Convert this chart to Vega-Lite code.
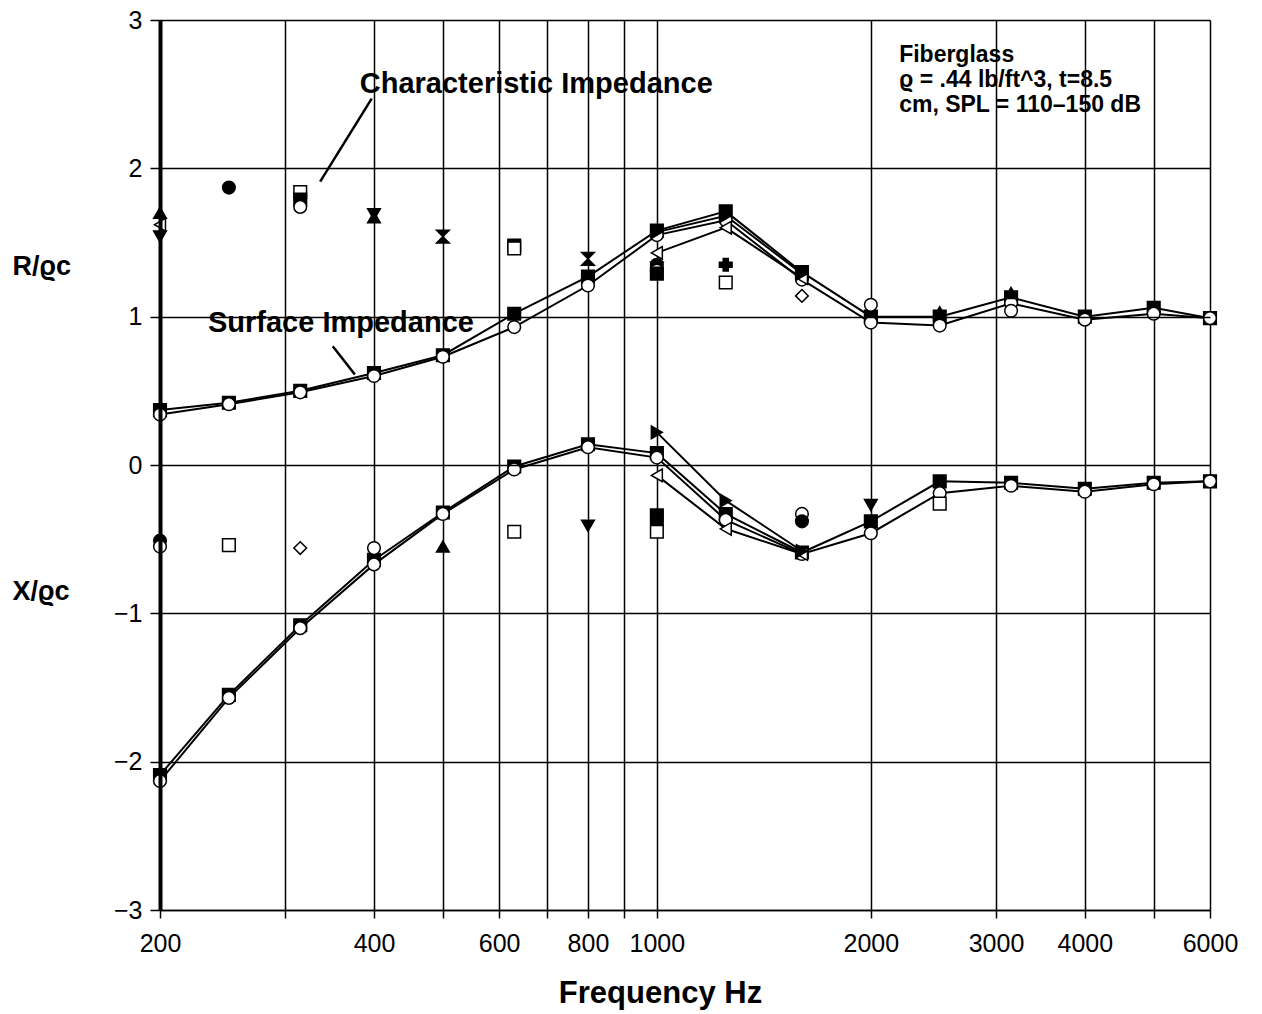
{
  "$schema": "https://vega.github.io/schema/vega-lite/v6.json",
  "width": 1050,
  "height": 890,
  "autosize": {"type": "none"},
  "padding": {"left": 160, "top": 20, "right": 52, "bottom": 104},
  "background": "white",
  "config": {
    "view": {"stroke": null},
    "font": "Liberation Sans"
  },
  "datasets": {
    "surface": [
      {"run": "s1", "part": "R", "f": 200, "v": 0.37},
      {"run": "s1", "part": "R", "f": 250, "v": 0.42},
      {"run": "s1", "part": "R", "f": 315, "v": 0.50},
      {"run": "s1", "part": "R", "f": 400, "v": 0.62},
      {"run": "s1", "part": "R", "f": 500, "v": 0.74},
      {"run": "s1", "part": "R", "f": 630, "v": 1.02},
      {"run": "s1", "part": "R", "f": 800, "v": 1.27},
      {"run": "s1", "part": "R", "f": 1000, "v": 1.58},
      {"run": "s1", "part": "R", "f": 1250, "v": 1.71},
      {"run": "s1", "part": "R", "f": 1600, "v": 1.30},
      {"run": "s1", "part": "R", "f": 2000, "v": 1.00},
      {"run": "s1", "part": "R", "f": 2500, "v": 1.00},
      {"run": "s1", "part": "R", "f": 3150, "v": 1.13},
      {"run": "s1", "part": "R", "f": 4000, "v": 1.00},
      {"run": "s1", "part": "R", "f": 5000, "v": 1.06},
      {"run": "s1", "part": "R", "f": 6000, "v": 0.99},
      {"run": "s2", "part": "R", "f": 200, "v": 0.34},
      {"run": "s2", "part": "R", "f": 250, "v": 0.41},
      {"run": "s2", "part": "R", "f": 315, "v": 0.49},
      {"run": "s2", "part": "R", "f": 400, "v": 0.60},
      {"run": "s2", "part": "R", "f": 500, "v": 0.73},
      {"run": "s2", "part": "R", "f": 630, "v": 0.93},
      {"run": "s2", "part": "R", "f": 800, "v": 1.21},
      {"run": "s2", "part": "R", "f": 1000, "v": 1.55},
      {"run": "s2", "part": "R", "f": 1250, "v": 1.65},
      {"run": "s2", "part": "R", "f": 1600, "v": 1.25},
      {"run": "s2", "part": "R", "f": 2000, "v": 0.96},
      {"run": "s2", "part": "R", "f": 2500, "v": 0.94},
      {"run": "s2", "part": "R", "f": 3150, "v": 1.09},
      {"run": "s2", "part": "R", "f": 4000, "v": 0.98},
      {"run": "s2", "part": "R", "f": 5000, "v": 1.02},
      {"run": "s2", "part": "R", "f": 6000, "v": 0.99},
      {"run": "s3", "part": "R", "f": 1000, "v": 1.43},
      {"run": "s3", "part": "R", "f": 1250, "v": 1.60},
      {"run": "s3", "part": "R", "f": 1600, "v": 1.26},
      {"run": "s4", "part": "R", "f": 1000, "v": 1.57},
      {"run": "s4", "part": "R", "f": 1250, "v": 1.68},
      {"run": "s4", "part": "R", "f": 1600, "v": 1.29},
      {"run": "s1", "part": "X", "f": 200, "v": -2.09},
      {"run": "s1", "part": "X", "f": 250, "v": -1.55},
      {"run": "s1", "part": "X", "f": 315, "v": -1.08},
      {"run": "s1", "part": "X", "f": 400, "v": -0.64},
      {"run": "s1", "part": "X", "f": 500, "v": -0.32},
      {"run": "s1", "part": "X", "f": 630, "v": -0.01},
      {"run": "s1", "part": "X", "f": 800, "v": 0.14},
      {"run": "s1", "part": "X", "f": 1000, "v": 0.08},
      {"run": "s1", "part": "X", "f": 1250, "v": -0.33},
      {"run": "s1", "part": "X", "f": 1600, "v": -0.59},
      {"run": "s1", "part": "X", "f": 2000, "v": -0.38},
      {"run": "s1", "part": "X", "f": 2500, "v": -0.11},
      {"run": "s1", "part": "X", "f": 3150, "v": -0.12},
      {"run": "s1", "part": "X", "f": 4000, "v": -0.16},
      {"run": "s1", "part": "X", "f": 5000, "v": -0.12},
      {"run": "s1", "part": "X", "f": 6000, "v": -0.11},
      {"run": "s2", "part": "X", "f": 200, "v": -2.13},
      {"run": "s2", "part": "X", "f": 250, "v": -1.57},
      {"run": "s2", "part": "X", "f": 315, "v": -1.10},
      {"run": "s2", "part": "X", "f": 400, "v": -0.67},
      {"run": "s2", "part": "X", "f": 500, "v": -0.33},
      {"run": "s2", "part": "X", "f": 630, "v": -0.03},
      {"run": "s2", "part": "X", "f": 800, "v": 0.12},
      {"run": "s2", "part": "X", "f": 1000, "v": 0.05},
      {"run": "s2", "part": "X", "f": 1250, "v": -0.37},
      {"run": "s2", "part": "X", "f": 1600, "v": -0.60},
      {"run": "s2", "part": "X", "f": 2000, "v": -0.46},
      {"run": "s2", "part": "X", "f": 2500, "v": -0.19},
      {"run": "s2", "part": "X", "f": 3150, "v": -0.14},
      {"run": "s2", "part": "X", "f": 4000, "v": -0.18},
      {"run": "s2", "part": "X", "f": 5000, "v": -0.13},
      {"run": "s2", "part": "X", "f": 6000, "v": -0.11},
      {"run": "s3", "part": "X", "f": 1000, "v": -0.07},
      {"run": "s3", "part": "X", "f": 1250, "v": -0.43},
      {"run": "s3", "part": "X", "f": 1600, "v": -0.60},
      {"run": "s4", "part": "X", "f": 1000, "v": 0.22},
      {"run": "s4", "part": "X", "f": 1250, "v": -0.24},
      {"run": "s4", "part": "X", "f": 1600, "v": -0.58}
    ],
    "characteristic": [
      {"run": "c5", "part": "R", "f": 200, "v": 1.70},
      {"run": "c1", "part": "R", "f": 200, "v": 1.62},
      {"run": "c6", "part": "R", "f": 200, "v": 1.54},
      {"run": "c2", "part": "R", "f": 250, "v": 1.87},
      {"run": "c3", "part": "R", "f": 315, "v": 1.84},
      {"run": "c9", "part": "R", "f": 315, "v": 1.79},
      {"run": "c10", "part": "R", "f": 315, "v": 1.74},
      {"run": "c6", "part": "R", "f": 400, "v": 1.69},
      {"run": "c5", "part": "R", "f": 400, "v": 1.67},
      {"run": "c7", "part": "R", "f": 500, "v": 1.54},
      {"run": "c9", "part": "R", "f": 630, "v": 1.48},
      {"run": "c3", "part": "R", "f": 630, "v": 1.46},
      {"run": "c7", "part": "R", "f": 800, "v": 1.39},
      {"run": "c2", "part": "R", "f": 1000, "v": 1.35},
      {"run": "c6", "part": "R", "f": 1000, "v": 1.33},
      {"run": "c10", "part": "R", "f": 1000, "v": 1.31},
      {"run": "c9", "part": "R", "f": 1000, "v": 1.29},
      {"run": "c8", "part": "R", "f": 1250, "v": 1.35},
      {"run": "c3", "part": "R", "f": 1250, "v": 1.23},
      {"run": "c4", "part": "R", "f": 1600, "v": 1.14},
      {"run": "c10", "part": "R", "f": 2000, "v": 1.08},
      {"run": "c5", "part": "R", "f": 2500, "v": 1.03},
      {"run": "c10", "part": "R", "f": 3150, "v": 1.04},
      {"run": "c5", "part": "R", "f": 3150, "v": 1.16},
      {"run": "c2", "part": "X", "f": 200, "v": -0.51},
      {"run": "c10", "part": "X", "f": 200, "v": -0.55},
      {"run": "c3", "part": "X", "f": 250, "v": -0.54},
      {"run": "c4", "part": "X", "f": 315, "v": -0.56},
      {"run": "c10", "part": "X", "f": 400, "v": -0.56},
      {"run": "c5", "part": "X", "f": 500, "v": -0.55},
      {"run": "c3", "part": "X", "f": 630, "v": -0.45},
      {"run": "c6", "part": "X", "f": 800, "v": -0.41},
      {"run": "c9", "part": "X", "f": 1000, "v": -0.34},
      {"run": "c2", "part": "X", "f": 1000, "v": -0.40},
      {"run": "c3", "part": "X", "f": 1000, "v": -0.45},
      {"run": "c10", "part": "X", "f": 1600, "v": -0.33},
      {"run": "c2", "part": "X", "f": 1600, "v": -0.38},
      {"run": "c6", "part": "X", "f": 2000, "v": -0.27},
      {"run": "c3", "part": "X", "f": 2500, "v": -0.26}
    ],
    "callouts": [
      {"label": "Characteristic Impedance", "f": 382, "v": 2.51},
      {"label": "Surface Impedance", "f": 233.6, "v": 0.90}
    ],
    "material": [
      {"label": "Fiberglass", "f": 2192, "v": 2.72},
      {"label": "ϱ = .44 lb/ft^3,  t=8.5", "f": 2192, "v": 2.55},
      {"label": "cm, SPL = 110–150 dB", "f": 2192, "v": 2.38}
    ],
    "quantities": [
      {"label": "R/ϱc", "f": 124, "v": 1.28},
      {"label": "X/ϱc", "f": 124, "v": -0.91}
    ],
    "leaders": [
      {"f": 397, "v": 2.47, "f2": 336, "v2": 1.91},
      {"f": 350, "v": 0.80, "f2": 376, "v2": 0.61}
    ]
  },
  "encoding": {
    "x": {
      "field": "f",
      "type": "quantitative",
      "scale": {"type": "log", "domain": [200, 6000], "nice": false},
      "axis": {
        "values": [200, 300, 400, 500, 600, 700, 800, 900, 1000, 2000, 3000, 4000, 5000, 6000],
        "labelExpr": "indexof([200, 400, 600, 800, 1000, 2000, 3000, 4000, 6000], datum.value) >= 0 ? format(datum.value, 'd') : ''",
        "labelOverlap": false,
        "labelFlush": false,
        "labelFontSize": 25,
        "labelColor": "black",
        "labelPadding": 13,
        "grid": true,
        "gridColor": "black",
        "gridOpacity": 1,
        "gridWidth": 1.5,
        "domainColor": "black",
        "domainWidth": 1.5,
        "tickColor": "black",
        "tickWidth": 1.5,
        "tickSize": 8,
        "title": "Frequency Hz",
        "titleFontSize": 31,
        "titleFontWeight": "bold",
        "titleColor": "black",
        "titleX": 500,
        "titleY": 92,
        "titleAlign": "center",
        "titleBaseline": "alphabetic"
      }
    },
    "y": {
      "field": "v",
      "type": "quantitative",
      "scale": {"domain": [-3, 3], "nice": false},
      "axis": {
        "values": [-3, -2, -1, 0, 1, 2, 3],
        "labelExpr": "datum.value < 0 ? '−' + abs(datum.value) : '' + datum.value",
        "labelFontSize": 25,
        "labelColor": "black",
        "labelPadding": 8,
        "grid": true,
        "gridColor": "black",
        "gridOpacity": 1,
        "gridWidth": 1.5,
        "domainColor": "black",
        "domainWidth": 4,
        "tickColor": "black",
        "tickWidth": 1.5,
        "tickSize": 10,
        "title": null,
        "zindex": 1
      }
    }
  },
  "layer": [
    {
      "data": {"name": "surface"},
      "mark": {"type": "line", "color": "black", "strokeWidth": 2},
      "encoding": {"detail": [{"field": "run"}, {"field": "part"}]}
    },
    {
      "data": {"name": "surface"},
      "mark": {"type": "point", "filled": true, "stroke": "black", "strokeWidth": 1.5, "size": 160, "opacity": 1},
      "encoding": {
        "shape": {
          "field": "run",
          "scale": {
            "domain": ["s1", "s2", "s3", "s4", "c1", "c2", "c3", "c4", "c5", "c6", "c7", "c8", "c9", "c10"],
            "range": ["square", "circle", "triangle-left", "triangle-right", "triangle-left", "circle", "square", "diamond", "triangle-up", "triangle-down", "M-1,-1L1,-1L-1,1L1,1Z", "cross", "square", "circle"]
          },
          "legend": null
        },
        "fill": {
          "field": "run",
          "scale": {
            "domain": ["s1", "s2", "s3", "s4", "c1", "c2", "c3", "c4", "c5", "c6", "c7", "c8", "c9", "c10"],
            "range": ["black", "white", "white", "black", "white", "black", "white", "white", "black", "black", "black", "black", "black", "white"]
          },
          "legend": null
        }
      }
    },
    {
      "data": {"name": "characteristic"},
      "mark": {"type": "point", "filled": true, "stroke": "black", "strokeWidth": 1.5, "size": 160, "opacity": 1},
      "encoding": {
        "shape": {"field": "run", "legend": null},
        "fill": {"field": "run", "legend": null}
      }
    },
    {
      "data": {"name": "leaders"},
      "mark": {"type": "rule", "color": "black", "strokeWidth": 2.5},
      "encoding": {
        "x2": {"field": "f2"},
        "y2": {"field": "v2"}
      }
    },
    {
      "data": {"name": "callouts"},
      "mark": {"type": "text", "align": "left", "baseline": "alphabetic", "fontWeight": "bold", "fontSize": 29, "font": "Liberation Sans", "color": "black"},
      "encoding": {"text": {"field": "label"}}
    },
    {
      "data": {"name": "material"},
      "mark": {"type": "text", "align": "left", "baseline": "alphabetic", "fontWeight": "bold", "fontSize": 23, "font": "Liberation Sans", "color": "black"},
      "encoding": {"text": {"field": "label"}}
    },
    {
      "data": {"name": "quantities"},
      "mark": {"type": "text", "align": "left", "baseline": "alphabetic", "fontWeight": "bold", "fontSize": 27, "font": "Liberation Sans", "color": "black"},
      "encoding": {"text": {"field": "label"}}
    }
  ]
}
